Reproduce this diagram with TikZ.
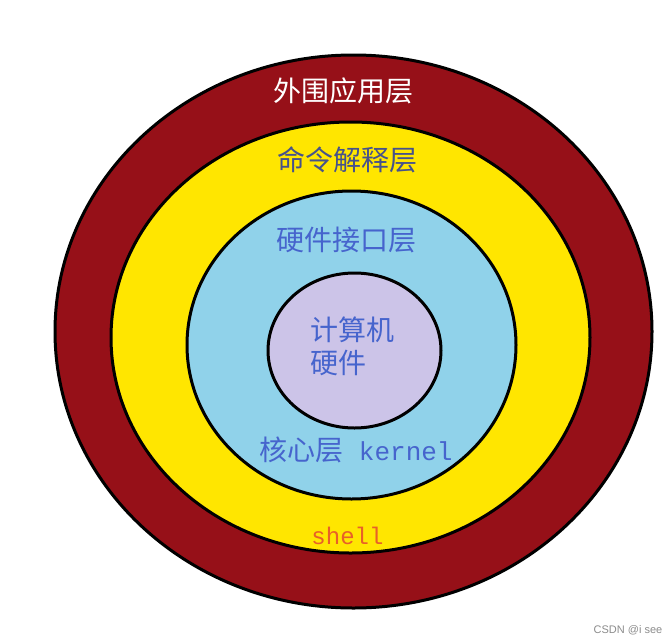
\documentclass[tikz,border=0pt]{standalone}
\usepackage{fontspec}
\setmainfont{Liberation Sans}
\newfontfamily\cjk{Noto Sans CJK SC}
\newfontfamily\mono{Liberation Mono}
\usetikzlibrary{shapes.geometric}
\definecolor{outerred}{RGB}{150,16,24}
\definecolor{shellyellow}{RGB}{255,230,0}
\definecolor{kernelblue}{RGB}{144,210,234}
\definecolor{hwlavender}{RGB}{204,196,232}
\definecolor{slatetext}{RGB}{70,82,140}
\definecolor{bluetext}{RGB}{70,100,205}
\definecolor{shelltext}{RGB}{232,96,40}
\tikzset{
  layer/.style={ellipse, draw=black, line width=3pt, inner sep=0pt},
  cjklabel/.style={font=\cjk\fontsize{28}{33}\selectfont, inner sep=0pt},
}
\begin{document}
\begin{tikzpicture}[x=1pt,y=-1pt]
\useasboundingbox[fill=white] (0,0) rectangle (672,643);
\node[layer, fill=outerred, minimum width=597pt, minimum height=553pt] (app) at (353.5,331.5) {};
\node[layer, fill=shellyellow, minimum width=479pt, minimum height=431pt] (shellring) at (350.5,337.5) {};
\node[layer, fill=kernelblue, minimum width=329pt, minimum height=308pt] (kernelring) at (351.5,345) {};
\node[layer, fill=hwlavender, minimum width=173pt, minimum height=155pt] (hw) at (354.5,350.5) {};
\node[cjklabel, text=white] (tapp) at (343,91) {外围应用层};
\node[cjklabel, text=slatetext] (tcmd) at (347,160) {命令解释层};
\node[cjklabel, text=bluetext] (thwi) at (346,240) {硬件接口层};
\node[cjklabel, text=bluetext, align=left] (thw) at (352.5,346.5) {计算机\\硬件};
\node[inner sep=0pt, text=bluetext] (tkern) at (356,450) {{\cjk\fontsize{28}{33}\selectfont 核心层}{\mono\fontsize{26}{33}\selectfont\ kernel}};
\node[inner sep=0pt, text=shelltext, font=\mono\fontsize{24}{28}\selectfont] (tshell) at (347.5,536) {shell};
\node[inner sep=0pt, text=black!45, font=\fontsize{11}{13}\selectfont] (wm) at (628,630) {CSDN @i see};
\end{tikzpicture}
\end{document}
